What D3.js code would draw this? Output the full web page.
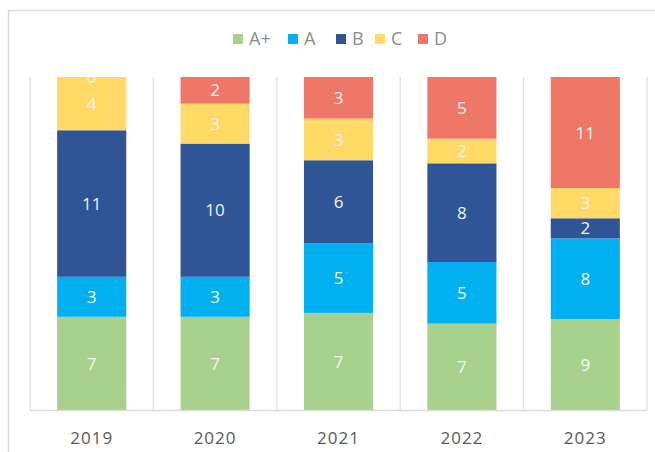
<!DOCTYPE html>
<html>
<head>
  <meta charset="utf-8">
  <script src="https://cdn.jsdelivr.net/npm/d3@7"></script>
  <style>
    body { margin: 0; background: #fff; }
    text { font-family: "Open Sans", "DejaVu Sans", sans-serif; }
  </style>
</head>
<body>
<svg id="chart" width="655" height="452"></svg>
<script>
  // data
  var years = ["2019", "2020", "2021", "2022", "2023"];
  var grades = ["A+", "A", "B", "C", "D"];
  var aPlus = [7, 7, 7, 7, 9];
  var aVals = [3, 3, 5, 5, 8];
  var bVals = [11, 10, 6, 8, 2];
  var cVals = [4, 3, 3, 2, 3];
  var dVals = [0, 2, 3, 5, 11];
  var colors = ["#a9d18e", "#00b0f0", "#2f5597", "#ffd966", "#ee7767"];

  var series = [aPlus, aVals, bVals, cVals, dVals];
  var rows = years.map(function(y, i) {
    var r = { year: y };
    grades.forEach(function(g, k) { r[g] = series[k][i]; });
    return r;
  });

  var svg = d3.select("#chart");
  var plotL = 30, plotR = 647, plotT = 77, plotB = 410;

  // outer frame
  svg.append("path")
    .attr("d", "M8.5,452 V10.5 H655")
    .attr("fill", "none")
    .attr("stroke", "#d9d9d9")
    .attr("stroke-width", 1.5);

  var x = d3.scaleBand().domain(years).range([plotL, plotR]).paddingInner(0.44).paddingOuter(0.22);
  var y = d3.scaleLinear().domain([0, 1]).range([plotB, plotT]);

  var stacked = d3.stack().keys(grades).offset(d3.stackOffsetExpand)(rows);

  // gridlines between categories
  var bounds = d3.range(years.length + 1).map(function(i) {
    return plotL + i * (plotR - plotL) / years.length;
  });
  svg.append("g").selectAll("line")
    .data(bounds)
    .enter().append("line")
    .attr("x1", function(d) { return d; })
    .attr("x2", function(d) { return d; })
    .attr("y1", plotT)
    .attr("y2", plotB)
    .attr("stroke", "#e3e3e3")
    .attr("stroke-width", 1.5);

  svg.append("defs").append("clipPath").attr("id", "plot")
    .append("rect").attr("x", plotL).attr("y", plotT).attr("width", plotR - plotL).attr("height", plotB - plotT);

  var layer = svg.append("g").attr("clip-path", "url(#plot)")
    .selectAll("g")
    .data(stacked)
    .enter().append("g")
    .attr("fill", function(d, i) { return colors[i]; });

  layer.selectAll("rect")
    .data(function(d) { return d; })
    .enter().append("rect")
    .attr("x", function(d) { return x(d.data.year); })
    .attr("width", x.bandwidth())
    .attr("y", function(d) { return y(d[1]); })
    .attr("height", function(d) { return y(d[0]) - y(d[1]); });

  layer.selectAll("text")
    .data(function(d) { return d.map(function(p) { return { p: p, key: d.key }; }); })
    .enter().append("text")
    .attr("x", function(d) { return x(d.p.data.year) + x.bandwidth() / 2; })
    .attr("y", function(d) { return (y(d.p[0]) + y(d.p[1])) / 2; })
    .attr("dy", "0.36em")
    .attr("text-anchor", "middle")
    .attr("fill", "#f4f4f4")
    .style("font-size", "17px")
    .text(function(d) { return d.p.data[d.key]; });

  // x axis
  svg.append("line")
    .attr("x1", plotL).attr("x2", plotR)
    .attr("y1", plotB + 0.5).attr("y2", plotB + 0.5)
    .attr("stroke", "#d9d9d9")
    .attr("stroke-width", 1.5);

  svg.append("g").selectAll("text")
    .data(years)
    .enter().append("text")
    .attr("x", function(d) { return x(d) + x.bandwidth() / 2; })
    .attr("y", 444)
    .attr("text-anchor", "middle")
    .attr("fill", "#595959")
    .style("font-size", "17px")
    .style("letter-spacing", "1px")
    .text(function(d) { return d; });

  // legend
  var legX = [233, 288, 336, 375, 418];
  var leg = svg.append("g").selectAll("g")
    .data(grades)
    .enter().append("g")
    .attr("transform", function(d, i) { return "translate(" + legX[i] + ",34)"; });
  leg.append("rect")
    .attr("width", 10).attr("height", 10)
    .attr("fill", function(d, i) { return colors[i]; });
  leg.append("text")
    .attr("x", 16).attr("y", 11)
    .attr("fill", "#8c8c8c")
    .style("font-size", "18px")
    .text(function(d) { return d; });
</script>
</body>
</html>
